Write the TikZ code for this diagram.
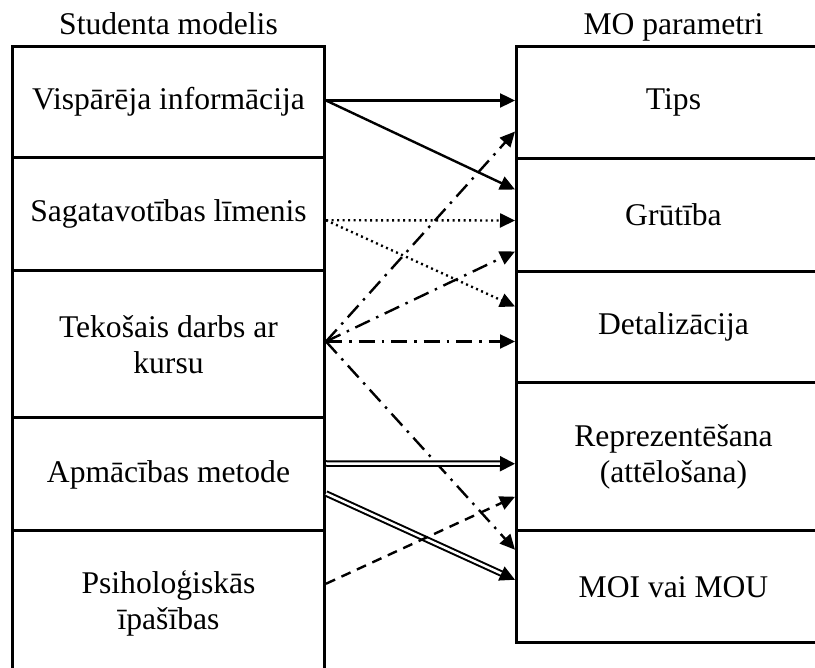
\documentclass[tikz,border=0pt]{standalone}
\usepackage{fontspec}
\setmainfont{Liberation Serif}
\usetikzlibrary{arrows.meta}
\begin{document}
\begin{tikzpicture}[x=1pt,y=-1pt,
  cell/.style={draw,line width=3pt,rectangle,anchor=north west,inner sep=0pt,
    align=center,font=\fontsize{31.6}{36}\selectfont},
  head/.style={anchor=base,inner sep=0pt,font=\fontsize{31.6}{36}\selectfont},
  link/.style={line width=2.4pt,-{Triangle[length=15pt,width=14pt]}},
  solidlink/.style={link},
  dotlink/.style={link,dash pattern=on 2pt off 3.5pt},
  dashdotlink/.style={link,dash pattern=on 16pt off 7pt on 2.5pt off 7pt},
  dashlink/.style={link,dash pattern=on 10pt off 7pt},
  doublelink/.style={-{Triangle[length=15pt,width=15pt]},line width=2pt,double,double distance=2.5pt}]
\useasboundingbox (0,0) rectangle (815,668);

% student model column
\node[cell,minimum width=312pt,minimum height=111pt] (l1) at (11,45) {Vispārēja informācija};
\node[cell,minimum width=312pt,minimum height=113.5pt] (l2) at (11,156) {Sagatavotības līmenis};
\node[cell,minimum width=312pt,minimum height=147pt] (l3) at (11,269.5) {Tekošais darbs ar\\kursu};
\node[cell,minimum width=312pt,minimum height=113pt] (l4) at (11,416.5) {Apmācības metode};
\node[cell,minimum width=312pt,minimum height=145.5pt] (l5) at (11,529.5) {Psiholoģiskās\\īpašības};

% learning object parameters column
\node[cell,minimum width=314pt,minimum height=112pt] (r1) at (515,45) {Tips};
\node[cell,minimum width=314pt,minimum height=113pt] (r2) at (515,157) {Grūtība};
\node[cell,minimum width=314pt,minimum height=111pt] (r3) at (515,270) {Detalizācija};
\node[cell,minimum width=314pt,minimum height=148.5pt] (r4) at (515,381) {Reprezentēšana\\(attēlošana)};
\node[cell,minimum width=314pt,minimum height=111.5pt] (r5) at (515,529.5) {MOI vai MOU};

% column headings
\node[head] (hl) at ([yshift=10pt]l1.north) {Studenta modelis};
\node[head] (hr) at ([yshift=10pt]r1.north) {MO parametri};

% general information
\draw[solidlink] ([yshift=1.5pt]l1.east) -- ([yshift=2pt]r1.west);
\draw[solidlink] ([yshift=1.5pt]l1.east) -- ([yshift=25.5pt]r2.west);
% preparation level
\draw[dotlink] ([yshift=-6pt]l2.east) -- ([yshift=-5.5pt]r2.west);
\draw[dotlink] ([yshift=-6pt]l2.east) -- ([yshift=20.5pt]r3.west);
% current course work
\draw[dashdotlink] ([yshift=3pt]l3.east) -- ([yshift=-29pt]r1.west);
\draw[dashdotlink] ([yshift=3pt]l3.east) -- ([yshift=-36.5pt]r2.west);
\draw[dashdotlink] ([yshift=3pt]l3.east) -- ([yshift=-14.5pt]r3.west);
\draw[dashdotlink] ([yshift=3pt]l3.east) -- ([yshift=37pt]r5.west);
% teaching method
\draw[doublelink] ([yshift=11pt]l4.east) -- ([yshift=-7pt]r4.west);
\draw[doublelink] ([yshift=-19pt]l4.east) -- ([yshift=7pt]r5.west);
% psychological traits
\draw[dashlink] ([yshift=20pt]l5.east) -- ([yshift=-40pt]r4.west);
\end{tikzpicture}
\end{document}
